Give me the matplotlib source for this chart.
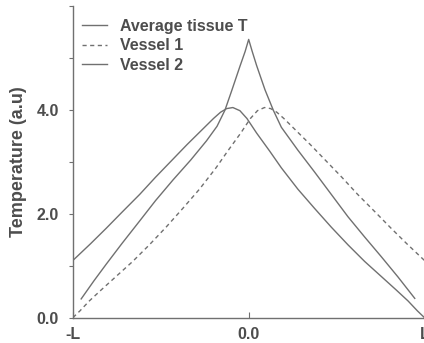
import numpy as np
import matplotlib
matplotlib.use("Agg")
import matplotlib.pyplot as plt

# values (x in units of L)
avg_x = [-0.953, -0.88, -0.81, -0.72, -0.62, -0.53, -0.43, -0.33, -0.24,
         -0.18, -0.135, -0.097, -0.05, -0.02, 0.0, 0.02, 0.045, 0.093,
         0.14, 0.186, 0.28, 0.375, 0.47, 0.565, 0.66, 0.755, 0.85, 0.945]
avg_t = [0.36, 0.71, 1.03, 1.43, 1.86, 2.25, 2.65, 3.03, 3.40,
         3.68, 3.99, 4.36, 4.83, 5.12, 5.35, 5.12, 4.85, 4.38,
         3.99, 3.66, 3.22, 2.80, 2.37, 1.94, 1.55, 1.17, 0.78, 0.37]

v2_x = [-1.0, -0.9, -0.81, -0.72, -0.62, -0.53, -0.43, -0.35, -0.26,
        -0.2, -0.16, -0.125, -0.09, -0.05, -0.01, 0.045, 0.12, 0.186, 0.28,
        0.375, 0.47, 0.565, 0.66, 0.755, 0.84, 0.907, 0.96, 1.0]
v2_t = [1.10, 1.42, 1.72, 2.03, 2.37, 2.70, 3.05, 3.33, 3.63,
        3.83, 3.95, 4.02, 4.04, 3.98, 3.83, 3.55, 3.20, 2.88, 2.47,
        2.10, 1.74, 1.40, 1.08, 0.79, 0.53, 0.32, 0.13, 0.0]

# vessel 1 is the mirror image of vessel 2
v1_x = [-x for x in v2_x[::-1]]
v1_t = v2_t[::-1]

labels = ["Average tissue T", "Vessel 1", "Vessel 2"]
xtick_pos = [-1, 0, 1]
xtick_lab = ["-L", "0.0", "L"]
ytick_pos = [0, 1, 2, 3, 4, 5, 6]
ytick_lab = ["0.0", "", "2.0", "", "4.0", "", ""]

plt.rcParams["font.family"] = ["Liberation Sans", "DejaVu Sans"]

gray = "#707070"
txt = "#4d4d4d"

fig = plt.figure(figsize=(4.24, 3.43), dpi=100)
ax = fig.add_axes([0.172, 0.074, 0.829, 0.9096])

ax.plot(avg_x, avg_t, color=gray, lw=1.0, label=labels[0])
ax.plot(v1_x, v1_t, color=gray, lw=1.0, ls=(0, (3, 2.5)), label=labels[1])
ax.plot(v2_x, v2_t, color=gray, lw=1.0, label=labels[2])

ax.set_xlim(-1, 1)
ax.set_ylim(0, 6)
for s in ["top", "right"]:
    ax.spines[s].set_visible(False)
for s in ["left", "bottom"]:
    ax.spines[s].set_color(gray)
    ax.spines[s].set_linewidth(1.0)

ax.set_xticks(xtick_pos)
ax.set_xticklabels(xtick_lab, fontsize=11.5, fontweight="bold", color=txt)
ax.set_yticks(ytick_pos)
ax.set_yticklabels(ytick_lab, fontsize=11.5, fontweight="bold", color=txt)
ax.tick_params(axis="x", direction="in", length=4, pad=7, color=gray)
ax.tick_params(axis="y", direction="out", length=3, pad=7, color=gray)

ax.set_ylabel("Temperature (a.u)", fontsize=13, fontweight="bold", color=txt,
              labelpad=7)

leg = ax.legend(loc="upper left", bbox_to_anchor=(0.0, 0.985), frameon=False,
                handlelength=1.6, handletextpad=0.8, labelspacing=0.27,
                borderaxespad=0.15, prop={"size": 11.5, "weight": "bold"})
for t in leg.get_texts():
    t.set_color(txt)

fig.savefig("out.png", dpi=100)
